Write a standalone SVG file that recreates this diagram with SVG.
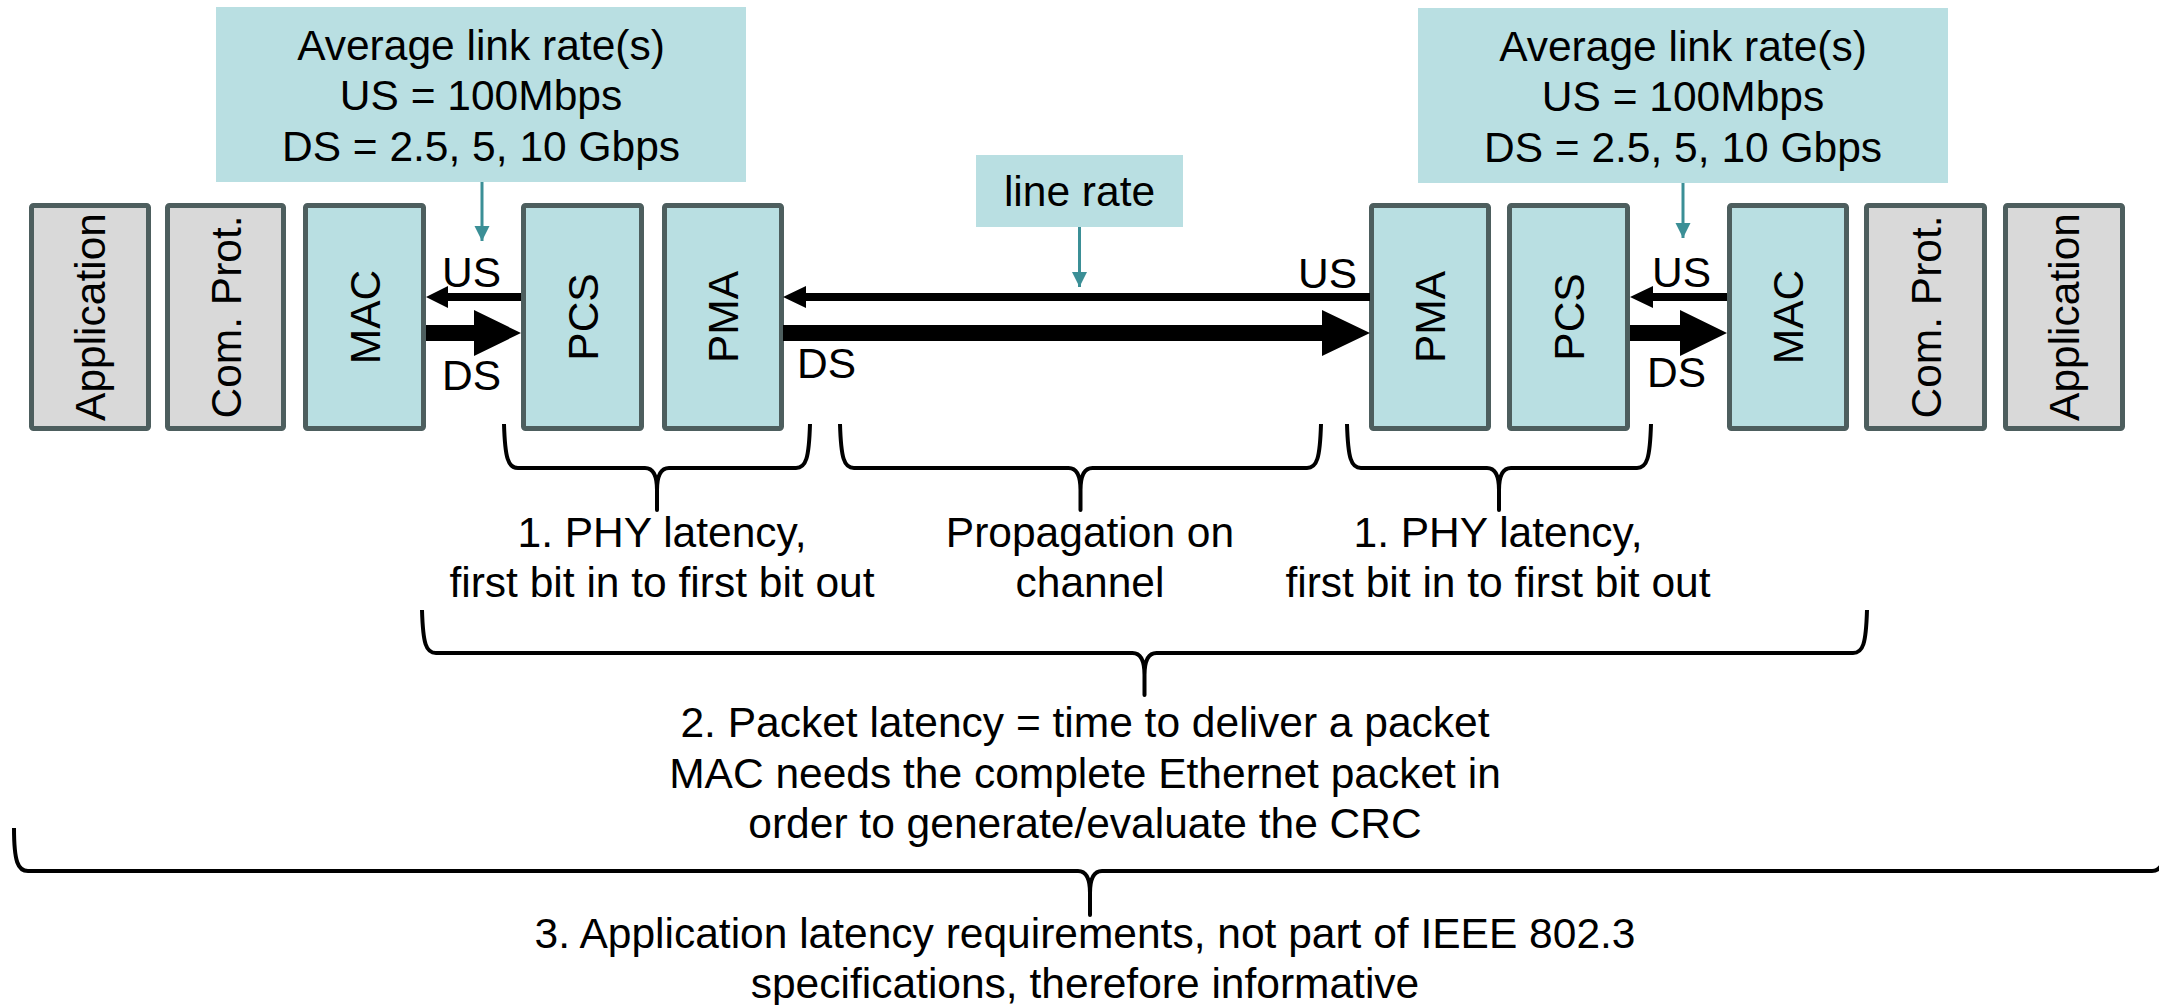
<svg xmlns="http://www.w3.org/2000/svg" width="2159" height="1005" viewBox="0 0 2159 1005">
  <style>
    text { font-family: "Liberation Sans", Arial, Helvetica, sans-serif; font-size: 42.5px; fill: #000; }
    .mid { text-anchor: middle; }
    .blk { stroke: #4d5e5e; stroke-width: 5; }
    .phy { fill: #b9dfe2; }
    .host { fill: #d9d9d9; }
    .note { fill: #b9dfe2; }
    .pointer { stroke: #3b8f96; stroke-width: 3; fill: none; }
    .flow { fill: #000; }
    .brace { fill: none; stroke: #000; stroke-width: 4; stroke-linejoin: round; }
  </style>
  <defs>
    <marker id="tealHead" markerUnits="userSpaceOnUse" markerWidth="16" markerHeight="16" refX="15" refY="7.5" orient="auto">
      <path d="M0,0 L15,7.5 L0,15 Z" fill="#3b8f96"/>
    </marker>
  </defs>

  <rect width="2159" height="1005" fill="#fff"/>

  <!-- rate notes -->
  <g id="note-rate-left">
    <rect class="note" x="216" y="7" width="530" height="175"/>
    <text class="mid" x="481" y="60">Average link rate(s)</text>
    <text class="mid" x="481" y="110">US = 100Mbps</text>
    <text class="mid" x="481" y="161">DS = 2.5, 5, 10 Gbps</text>
  </g>
  <g id="note-rate-right">
    <rect class="note" x="1418" y="8" width="530" height="175"/>
    <text class="mid" x="1683" y="61">Average link rate(s)</text>
    <text class="mid" x="1683" y="111">US = 100Mbps</text>
    <text class="mid" x="1683" y="162">DS = 2.5, 5, 10 Gbps</text>
  </g>
  <g id="note-line-rate">
    <rect class="note" x="976" y="155" width="207" height="72"/>
    <text class="mid" x="1079.5" y="206">line rate</text>
  </g>

  <!-- left station -->
  <g id="app-left">
    <rect class="blk host" x="31.5" y="205.5" width="117" height="223" rx="2"/>
    <text class="mid" transform="translate(90,317) rotate(-90)" x="0" y="15">Application</text>
  </g>
  <g id="prot-left">
    <rect class="blk host" x="167.5" y="205.5" width="116" height="223" rx="2"/>
    <text class="mid" transform="translate(225.5,317) rotate(-90)" x="0" y="15">Com. Prot.</text>
  </g>
  <g id="mac-left">
    <rect class="blk phy" x="305.5" y="205.5" width="118" height="223" rx="2"/>
    <text class="mid" transform="translate(364.5,317) rotate(-90)" x="0" y="15">MAC</text>
  </g>
  <g id="pcs-left">
    <rect class="blk phy" x="523.5" y="205.5" width="118" height="223" rx="2"/>
    <text class="mid" transform="translate(582.5,317) rotate(-90)" x="0" y="15">PCS</text>
  </g>
  <g id="pma-left">
    <rect class="blk phy" x="664.5" y="205.5" width="117" height="223" rx="2"/>
    <text class="mid" transform="translate(723,317) rotate(-90)" x="0" y="15">PMA</text>
  </g>

  <!-- right station -->
  <g id="pma-right">
    <rect class="blk phy" x="1371.5" y="205.5" width="117" height="223" rx="2"/>
    <text class="mid" transform="translate(1430,317) rotate(-90)" x="0" y="15">PMA</text>
  </g>
  <g id="pcs-right">
    <rect class="blk phy" x="1509.5" y="205.5" width="118" height="223" rx="2"/>
    <text class="mid" transform="translate(1568.5,317) rotate(-90)" x="0" y="15">PCS</text>
  </g>
  <g id="mac-right">
    <rect class="blk phy" x="1729.5" y="205.5" width="117" height="223" rx="2"/>
    <text class="mid" transform="translate(1788,317) rotate(-90)" x="0" y="15">MAC</text>
  </g>
  <g id="prot-right">
    <rect class="blk host" x="1866.5" y="205.5" width="118" height="223" rx="2"/>
    <text class="mid" transform="translate(1925.5,317) rotate(-90)" x="0" y="15">Com. Prot.</text>
  </g>
  <g id="app-right">
    <rect class="blk host" x="2005.5" y="205.5" width="117" height="223" rx="2"/>
    <text class="mid" transform="translate(2064,317) rotate(-90)" x="0" y="15">Application</text>
  </g>

  <!-- connectors -->
  <g id="connectors">
    <line class="pointer" x1="482" y1="182" x2="482" y2="241" marker-end="url(#tealHead)"/>
    <line class="pointer" x1="1683" y1="183" x2="1683" y2="238" marker-end="url(#tealHead)"/>
    <line class="pointer" x1="1079.5" y1="227" x2="1079.5" y2="287" marker-end="url(#tealHead)"/>

    <!-- MAC / PCS, left -->
    <path class="flow" d="M521,293 L448,293 L448,286 L426,297 L448,308 L448,301 L521,301 Z"/>
    <path class="flow" d="M426,325 L474,325 L474,310 L521,333 L474,356 L474,341 L426,341 Z"/>
    <!-- channel -->
    <path class="flow" d="M1370,293 L806,293 L806,286 L783,297 L806,308 L806,301 L1370,301 Z"/>
    <path class="flow" d="M783,325 L1322,325 L1322,310 L1370,333 L1322,356 L1322,341 L783,341 Z"/>
    <!-- PCS / MAC, right -->
    <path class="flow" d="M1727,293 L1653,293 L1653,286 L1630,297 L1653,308 L1653,301 L1727,301 Z"/>
    <path class="flow" d="M1630,325 L1680,325 L1680,310 L1727,333 L1680,356 L1680,341 L1630,341 Z"/>

    <text x="442" y="287">US</text>
    <text x="442" y="390">DS</text>
    <text x="1298" y="288">US</text>
    <text x="797" y="378">DS</text>
    <text x="1652" y="287">US</text>
    <text x="1647" y="387">DS</text>
  </g>

  <!-- latency braces -->
  <g id="brace-phy-left">
    <path class="brace" d="M504,424 C505,458 508,468 518,468 L645,468 C653,468 657,476 657,490 L657,510 L657,490 C657,476 661,468 669,468 L796,468 C806,468 809,458 810,424"/>
    <text class="mid" x="662" y="547">1. PHY latency,</text>
    <text class="mid" x="662" y="597">first bit in to first bit out</text>
  </g>
  <g id="brace-channel">
    <path class="brace" d="M840,424 C841,458 844,468 854,468 L1068.5,468 C1076.5,468 1080.5,476 1080.5,490 L1080.5,510 L1080.5,490 C1080.5,476 1084.5,468 1092.5,468 L1307,468 C1317,468 1320,458 1321,424"/>
    <text class="mid" x="1090" y="547">Propagation on</text>
    <text class="mid" x="1090" y="597">channel</text>
  </g>
  <g id="brace-phy-right">
    <path class="brace" d="M1347,424 C1348,458 1351,468 1361,468 L1487,468 C1495,468 1499,476 1499,490 L1499,510 L1499,490 C1499,476 1503,468 1511,468 L1637,468 C1647,468 1650,458 1651,424"/>
    <text class="mid" x="1498" y="547">1. PHY latency,</text>
    <text class="mid" x="1498" y="597">first bit in to first bit out</text>
  </g>
  <g id="brace-packet">
    <path class="brace" d="M422,610 C423,644 426,653 436,653 L1132.5,653 C1140.5,653 1144.5,661 1144.5,675 L1144.5,695 L1144.5,675 C1144.5,661 1148.5,653 1156.5,653 L1853,653 C1863,653 1866,644 1867,610"/>
    <text class="mid" x="1085" y="737">2. Packet latency = time to deliver a packet</text>
    <text class="mid" x="1085" y="788">MAC needs the complete Ethernet packet in</text>
    <text class="mid" x="1085" y="838">order to generate/evaluate the CRC</text>
  </g>
  <g id="brace-application">
    <path class="brace" d="M14,828 C14,862 18,871 28,871 L1078,871 C1086,871 1090,879 1090,893 L1090,915 L1090,893 C1090,879 1094,871 1102,871 L2152,871 C2162,871 2166,862 2166,828"/>
    <text class="mid" x="1085" y="948">3. Application latency requirements, not part of IEEE 802.3</text>
    <text class="mid" x="1085" y="998">specifications, therefore informative</text>
  </g>
</svg>
